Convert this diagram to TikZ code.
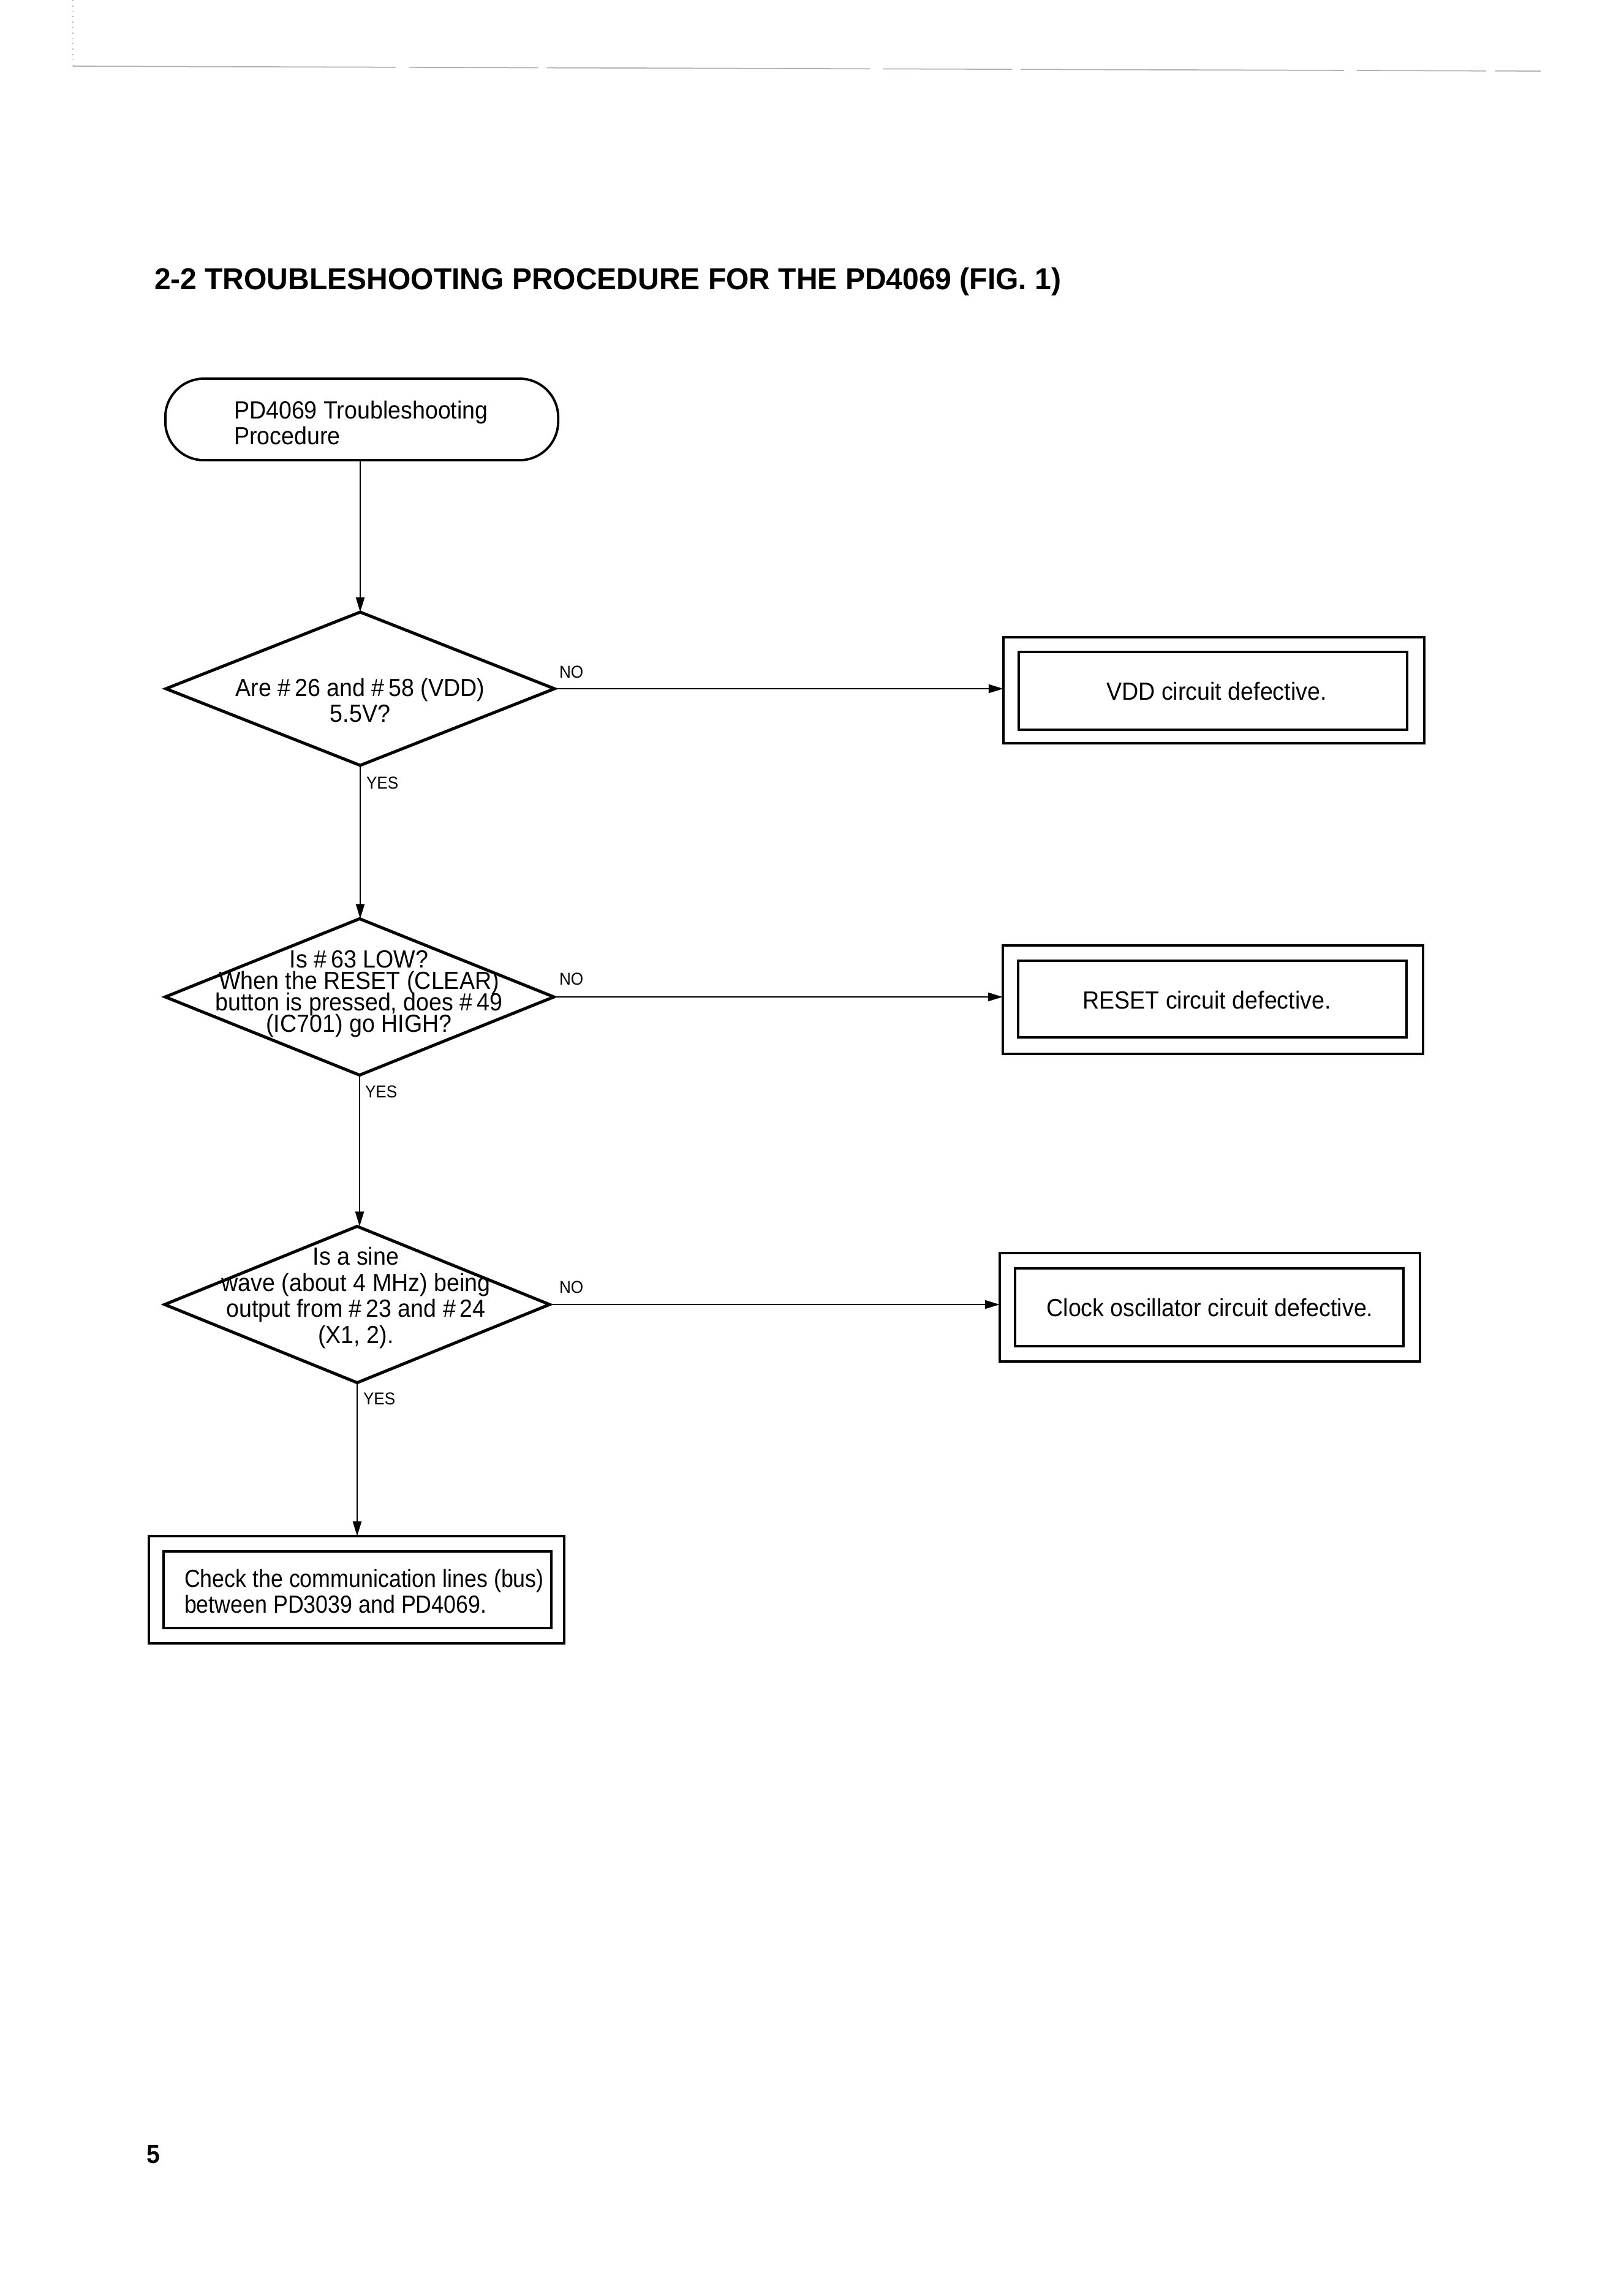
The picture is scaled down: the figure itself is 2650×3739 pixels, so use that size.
\documentclass[tikz,border=0pt]{standalone}
\usepackage{fontspec}
\setmainfont{Liberation Sans}[FakeStretch=0.93]
\newfontfamily\titlefont{Liberation Sans}[FakeStretch=0.975]
\newfontfamily\narrowfont{Liberation Sans}[FakeStretch=0.885]
\newcommand\tightlines{\lineskiplimit=-20pt\relax}
\newcommand\pin[1]{~\#\,#1}
\usetikzlibrary{shapes.geometric,arrows.meta}
\begin{document}
\begin{tikzpicture}[x=0.01cm,y=-0.01cm,
  every node/.style={inner sep=0pt,outer sep=0pt},
  txt/.style={font=\fontsize{11.5}{12.2}\selectfont, align=center},
  txtleft/.style={font=\fontsize{11.5}{12.2}\selectfont, align=left},
  lbl/.style={font=\fontsize{8}{9}\selectfont, anchor=west},
  decision/.style={draw,diamond,line width=1.4pt,minimum width=6.34cm,minimum height=2.5cm,line join=miter},
  outerbox/.style={draw,rectangle,line width=1.1pt},
  innerbox/.style={draw,rectangle,line width=1.3pt},
  conn/.style={line width=0.7pt,-{Triangle[length=0.24cm,width=0.14cm]}},
  edgeline/.style={line width=0.5pt,gray!60}
]
\useasboundingbox (0,0) rectangle (2650,3739);

% page edge (scan)
\coordinate (pe1) at (119,0);
\coordinate (pe2) at (119,108);
\coordinate (pe3) at (2515,116);
\draw[edgeline,dotted] (pe1) -- (pe2);
\draw[edgeline,dash pattern=on 150pt off 6pt on 60pt off 4pt] (pe2) -- (pe3);

% title
\node[anchor=base west,font=\titlefont\bfseries\fontsize{14}{16}\selectfont] (title) at (252,472)
  {2-2 TROUBLESHOOTING PROCEDURE FOR THE PD4069 (FIG. 1)};

% start
\node[draw,line width=1.1pt,rounded corners=0.63cm,minimum width=6.41cm,minimum height=1.33cm] (term) at (590.5,684.5) {};
\node[txtleft,anchor=west] (termtxt) at (382,690) {PD4069 Troubleshooting\\Procedure};

% decisions
\node[decision] (d1) at (588,1124) {};
\node[txt] (t1) at (588,1143) {Are\pin{26} and\pin{58} (VDD)\\5.5V?};

\node[decision,minimum height=2.55cm] (d2) at (587,1627) {};
\node[txt,font={\fontsize{11.5}{10}\selectfont\tightlines}] (t2) at (586,1622) {Is\pin{63} LOW?\\When the RESET (CLEAR)\\button is pressed, does\pin{49}\\(IC701) go HIGH?};

\node[decision,minimum width=6.28cm,minimum height=2.55cm] (d3) at (583,2129) {};
\node[txt] (t3) at (581,2118) {Is a sine\\wave (about 4 MHz) being\\output from\pin{23} and\pin{24}\\(X1, 2).};

% result boxes
\node[outerbox,minimum width=6.87cm,minimum height=1.73cm] (b1o) at (1981.5,1126.5) {};
\node[innerbox,minimum width=6.34cm,minimum height=1.27cm] (b1i) at (1980,1127.5) {};
\node[txt] (b1t) at (1986,1128) {VDD circuit defective.};

\node[outerbox,minimum width=6.86cm,minimum height=1.77cm] (b2o) at (1980,1631.5) {};
\node[innerbox,minimum width=6.34cm,minimum height=1.25cm] (b2i) at (1979,1630.5) {};
\node[txt] (b2t) at (1970,1632) {RESET circuit defective.};

\node[outerbox,minimum width=6.86cm,minimum height=1.77cm] (b3o) at (1975,2133.5) {};
\node[innerbox,minimum width=6.34cm,minimum height=1.27cm] (b3i) at (1974,2133.5) {};
\node[txt] (b3t) at (1975,2134) {Clock oscillator circuit defective.};

\node[outerbox,minimum width=6.78cm,minimum height=1.75cm] (b4o) at (582,2594.5) {};
\node[innerbox,minimum width=6.33cm,minimum height=1.25cm] (b4i) at (583.5,2594.5) {};
\node[txtleft,anchor=west,font=\narrowfont\fontsize{11.5}{12.2}\selectfont] (b4t) at (301,2597) {Check the communication lines (bus)\\between PD3039 and PD4069.};

% connectors
\draw[conn] (d1.north |- term.south) -- (d1.north);
\draw[conn] (d1.south) -- (d1.south |- d2.north);
\draw[conn] (d2.south) -- (d2.south |- d3.north);
\draw[conn] (d3.south) -- (d3.south |- b4o.north);
\draw[conn] (d1.east) -- (d1.east -| b1o.west);
\draw[conn] (d2.east) -- (d2.east -| b2o.west);
\draw[conn] (d3.east) -- (d3.east -| b3o.west);

% labels
\node[lbl] (no1) at (913,1097) {NO};
\node[lbl] (no2) at (913,1598) {NO};
\node[lbl] (no3) at (913,2101) {NO};
\node[lbl] (yes1) at (598,1278) {YES};
\node[lbl] (yes2) at (596,1782) {YES};
\node[lbl] (yes3) at (593,2283) {YES};

% page number
\node[font=\bfseries\fontsize{12}{14}\selectfont] (pnum) at (250,3516) {5};
\end{tikzpicture}
\end{document}
